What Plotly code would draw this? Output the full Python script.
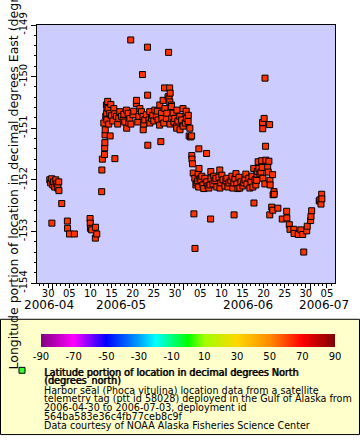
import plotly.graph_objects as go

# ---------------- data ----------------
times = [
"2006-04-30 09:00","2006-04-30 14:00","2006-04-30 20:00","2006-04-30 21:00","2006-05-01 02:00",
"2006-05-01 07:00","2006-05-01 13:00","2006-05-01 19:00","2006-05-02 00:00","2006-05-02 06:00",
"2006-05-02 07:00","2006-05-02 12:00","2006-05-02 13:00","2006-05-03 05:00",
"2006-05-04 13:00","2006-05-04 14:00","2006-05-05 01:00","2006-05-06 05:00",
"2006-05-09 22:00","2006-05-09 23:00","2006-05-10 00:00","2006-05-10 07:00","2006-05-11 04:00",
"2006-05-11 05:00","2006-05-11 12:00",
"2006-05-12 16:00","2006-05-12 17:00","2006-05-12 20:00","2006-05-13 04:00","2006-05-13 08:00",
"2006-05-13 09:00","2006-05-13 10:00","2006-05-13 11:00","2006-05-13 12:00","2006-05-13 15:00",
"2006-05-13 19:00","2006-05-13 20:00","2006-05-13 21:00","2006-05-13 22:00","2006-05-14 02:00",
"2006-05-14 04:00","2006-05-14 08:00","2006-05-14 14:00","2006-05-14 16:00","2006-05-14 20:00",
"2006-05-14 23:00","2006-05-15 07:00","2006-05-15 13:00","2006-05-15 18:00","2006-05-15 19:00",
"2006-05-16 04:00","2006-05-16 11:00","2006-05-16 17:00","2006-05-16 23:00","2006-05-17 08:00",
"2006-05-17 18:00","2006-05-17 22:00","2006-05-18 03:00","2006-05-18 13:00","2006-05-18 14:00",
"2006-05-18 22:00","2006-05-19 02:00","2006-05-19 08:00","2006-05-19 13:00","2006-05-19 14:00",
"2006-05-20 02:00","2006-05-20 06:00","2006-05-20 21:00","2006-05-20 22:00","2006-05-21 05:00",
"2006-05-21 11:00","2006-05-21 17:00","2006-05-22 02:00","2006-05-22 08:00","2006-05-22 11:00",
"2006-05-22 12:00","2006-05-22 15:00","2006-05-22 21:00","2006-05-23 06:00","2006-05-23 12:00",
"2006-05-23 13:00","2006-05-23 14:00","2006-05-23 20:00","2006-05-24 01:00","2006-05-24 02:00",
"2006-05-24 11:00","2006-05-24 18:00","2006-05-25 00:00","2006-05-25 06:00","2006-05-25 15:00",
"2006-05-25 20:00","2006-05-26 00:00","2006-05-26 09:00","2006-05-26 10:00","2006-05-26 16:00",
"2006-05-26 20:00","2006-05-26 22:00","2006-05-27 05:00","2006-05-27 09:00","2006-05-27 13:00",
"2006-05-27 15:00","2006-05-28 00:00","2006-05-28 02:00","2006-05-28 09:00","2006-05-28 12:00",
"2006-05-28 15:00","2006-05-28 18:00","2006-05-28 19:00","2006-05-28 20:00","2006-05-28 21:00",
"2006-05-29 04:00","2006-05-29 05:00","2006-05-29 06:00","2006-05-29 14:00","2006-05-29 18:00",
"2006-05-29 23:00","2006-05-30 09:00","2006-05-30 10:00","2006-05-30 11:00","2006-05-30 17:00",
"2006-05-31 04:00","2006-05-31 05:00","2006-05-31 14:00","2006-05-31 22:00","2006-05-31 23:00",
"2006-06-01 11:00","2006-06-01 16:00","2006-06-01 18:00","2006-06-02 03:00","2006-06-02 04:00",
"2006-06-02 09:00","2006-06-02 13:00","2006-06-02 17:00","2006-06-02 23:00","2006-06-03 00:00",
"2006-06-03 01:00","2006-06-03 04:00","2006-06-03 08:00","2006-06-03 12:00","2006-06-03 17:00",
"2006-06-03 18:00","2006-06-03 23:00","2006-06-04 05:00","2006-06-04 10:00","2006-06-04 12:00",
"2006-06-04 15:00","2006-06-04 16:00","2006-06-04 17:00","2006-06-04 22:00","2006-06-05 03:00",
"2006-06-05 09:00","2006-06-05 15:00","2006-06-05 20:00","2006-06-06 02:00","2006-06-06 12:00",
"2006-06-06 13:00","2006-06-06 19:00","2006-06-07 01:00","2006-06-07 07:00","2006-06-07 11:00",
"2006-06-07 12:00","2006-06-07 13:00","2006-06-08 00:00","2006-06-08 05:00","2006-06-08 11:00",
"2006-06-08 17:00","2006-06-08 22:00","2006-06-09 10:00","2006-06-09 15:00","2006-06-09 16:00",
"2006-06-09 21:00","2006-06-10 03:00","2006-06-10 09:00","2006-06-10 20:00","2006-06-11 02:00",
"2006-06-11 07:00","2006-06-11 13:00","2006-06-11 19:00","2006-06-12 06:00","2006-06-12 12:00",
"2006-06-12 17:00","2006-06-12 23:00","2006-06-13 00:00","2006-06-13 05:00","2006-06-13 11:00",
"2006-06-13 16:00","2006-06-13 22:00","2006-06-14 04:00","2006-06-14 09:00","2006-06-14 15:00",
"2006-06-15 02:00","2006-06-15 08:00","2006-06-15 14:00","2006-06-15 19:00","2006-06-16 01:00",
"2006-06-16 12:00","2006-06-16 18:00","2006-06-17 00:00","2006-06-17 06:00","2006-06-17 11:00",
"2006-06-17 16:00","2006-06-17 17:00","2006-06-17 23:00","2006-06-18 04:00","2006-06-18 08:00",
"2006-06-18 10:00","2006-06-18 12:00","2006-06-18 17:00","2006-06-18 21:00","2006-06-19 03:00",
"2006-06-19 09:00","2006-06-19 13:00","2006-06-19 16:00","2006-06-19 18:00","2006-06-19 19:00",
"2006-06-19 20:00","2006-06-20 03:00","2006-06-20 07:00","2006-06-20 08:00","2006-06-20 11:00",
"2006-06-20 13:00","2006-06-20 23:00","2006-06-21 02:00","2006-06-21 06:00","2006-06-21 10:00",
"2006-06-21 11:00","2006-06-21 12:00","2006-06-21 13:00","2006-06-21 22:00","2006-06-22 03:00",
"2006-06-22 04:00","2006-06-22 06:00","2006-06-22 11:00","2006-06-22 12:00","2006-06-23 09:00",
"2006-06-24 10:00","2006-06-25 11:00","2006-06-25 12:00","2006-06-26 02:00","2006-06-26 06:00",
"2006-06-27 04:00","2006-06-27 05:00","2006-06-28 05:00","2006-06-28 20:00","2006-06-29 06:00",
"2006-06-29 12:00","2006-06-30 05:00","2006-06-30 08:00","2006-07-01 03:00","2006-07-01 05:00",
"2006-07-01 09:00","2006-07-03 04:00","2006-07-03 08:00","2006-07-03 14:00","2006-07-03 18:00",
"2006-07-03 19:00",
]

longitudes = [
-152.00,-152.06,-151.98,-152.84,-152.10,
-152.04,-152.14,-152.00,-152.08,-152.16,
-152.12,-152.04,-152.21,-152.46,
-152.80,-152.94,-153.05,-153.05,
-152.75,-152.84,-152.94,-152.97,-153.13,
-152.92,-153.05,
-152.23,-151.81,-151.60,-150.90,-151.51,
-151.38,-151.28,-151.13,-151.03,-150.77,
-150.55,-150.71,-150.84,-150.60,-150.48,
-150.62,-150.92,-150.71,-151.15,-150.54,
-150.76,-150.86,-150.62,-150.72,-151.59,
-150.77,-150.92,-150.81,-150.68,-150.77,
-150.84,-150.73,-150.88,-150.65,-151.00,
-150.71,-150.90,-150.81,-149.29,-150.92,
-150.74,-150.67,-150.52,-150.46,-150.88,
-150.77,-150.62,-150.68,-149.96,-150.77,
-151.03,-150.92,-150.84,-150.74,-149.43,
-150.36,-151.33,-150.84,-150.68,-150.90,
-150.81,-150.75,-150.86,-150.65,-150.77,
-150.67,-150.84,-150.94,-150.55,-151.26,
-150.71,-150.81,-150.46,-150.90,-150.22,
-150.62,-150.81,-150.71,-150.39,-149.53,
-150.43,-150.22,-150.49,-150.92,-150.32,
-150.55,-150.58,-150.81,-150.71,-150.88,
-150.81,-150.96,-151.00,-150.65,-150.86,
-150.77,-151.03,-150.84,-150.62,-150.96,
-150.90,-150.67,-150.81,-150.87,-150.75,
-151.15,-151.00,-151.17,-151.15,-151.53,
-151.60,-151.69,-151.87,-152.66,-151.97,
-153.33,-152.10,-152.06,-152.02,-151.89,
-152.14,-151.40,-151.78,-151.98,-152.00,
-151.93,-152.10,-152.17,-151.97,-151.49,
-152.04,-152.12,-152.16,-152.10,-152.76,
-151.84,-151.98,-152.08,-151.93,-152.02,
-151.97,-152.14,-151.95,-151.81,-152.16,
-152.06,-151.91,-152.00,-152.12,-152.02,
-151.97,-152.14,-152.06,-152.02,-151.93,
-152.16,-152.06,-152.68,-151.98,-151.88,
-152.08,-152.17,-151.95,-152.16,-152.04,
-152.12,-152.06,-152.00,-151.89,-152.08,
-151.97,-152.16,-152.04,-151.93,-152.14,
-151.78,-152.45,-152.00,-152.10,-152.01,
-151.89,-151.84,-151.65,-151.78,-151.88,
-151.85,-151.63,-151.76,-150.89,-151.01,
-151.97,-150.81,-152.08,-150.03,-151.35,
-151.62,-151.76,-151.85,-151.64,-150.93,
-152.68,-152.01,-152.10,-152.53,-151.90,
-152.59,-152.29,-152.23,-152.28,-152.55,
-152.76,-152.61,-152.74,-152.87,-152.96,
-152.96,-153.04,-153.06,-152.97,-153.06,
-153.40,-152.99,-152.90,-152.79,-152.71,
-152.60,-152.41,-152.39,-152.47,-152.28,
-152.37,
]

x_range = ["2006-04-27 08:24", "2006-07-06 21:36"]
y_range = [-154, -149]
y_ticks = [-154, -153, -152, -151, -150, -149]
day_ticks = ["2006-04-30", "2006-05-05", "2006-05-10", "2006-05-15", "2006-05-20",
             "2006-05-25", "2006-05-30", "2006-06-05", "2006-06-10", "2006-06-15",
             "2006-06-20", "2006-06-25", "2006-06-30", "2006-07-05"]
month_starts = ["2006-05-01", "2006-06-01", "2006-07-01"]
month_labels = ["2006-04", "2006-05", "2006-06", "2006-07"]
colorbar_ticks = [-90, -70, -50, -30, -10, 10, 30, 50, 70, 90]

y_title = "Longitude portion of location in decimal degrees East (degrees_east)"
legend_bold = ["Latitude portion of location in decimal degrees North",
               "(degrees_north)"]
legend_lines = ["Harbor seal (Phoca vitulina) location data from a satellite",
                "telemetry tag (ptt id 58028) deployed in the Gulf of Alaska from",
                "2006-04-30 to 2006-07-03, deployment id",
                "564ba583e36c4fb77ceb8c9f",
                "Data courtesy of NOAA Alaska Fisheries Science Center"]

FONT = "DejaVu Sans"
W, H = 360, 440
L, R, T, B = 37, 25, 20, 157
PW, PH = W - L - R, H - T - B

def px_x(p):  # pixel -> paper x
    return (p - L) / PW

def px_y(p):  # pixel -> paper y
    return (H - B - p) / PH

rainbow = [
    [0.000, "#800080"], [0.111, "#ff00ff"], [0.222, "#0000ff"],
    [0.333, "#00a0ff"], [0.389, "#00ffff"], [0.444, "#00ff80"],
    [0.500, "#00ff00"], [0.556, "#a0ff00"], [0.667, "#ffd700"],
    [0.778, "#ff8c00"], [0.889, "#ff0000"], [1.000, "#800000"],
]

fig = go.Figure()
fig.add_trace(go.Scatter(
    x=times, y=longitudes, mode="markers",
    marker=dict(symbol="square", size=6, color="#ff3300",
                line=dict(color="black", width=1)),
    showlegend=False, hoverinfo="x+y"))
# carrier for the colour bar
fig.add_trace(go.Scatter(
    x=[None], y=[None], mode="markers",
    marker=dict(color=[0], coloraxis="coloraxis"),
    showlegend=False, hoverinfo="skip"))
# carrier for month-boundary ticks
fig.add_trace(go.Scatter(x=[None], y=[None], xaxis="x2", mode="markers",
                         showlegend=False, hoverinfo="skip"))

annotations = []
annotations.append(dict(text=y_title, xref="paper", yref="paper",
                        x=px_x(12.5), y=px_y(151.5), xanchor="center", yanchor="middle",
                        textangle=-90, showarrow=False,
                        font=dict(family=FONT, size=12.5, color="black")))
month_x = [48.5, 121, 248, 324]
for lab, mx in zip(month_labels, month_x):
    annotations.append(dict(text=lab, xref="paper", yref="paper", x=px_x(mx), y=px_y(305.5),
                            xanchor="center", yanchor="middle", showarrow=False,
                            font=dict(family=FONT, size=12, color="black")))
ly = [374.5, 383.2, 392.2, 401.2, 410.2, 418.8, 428.2]
for i, t in enumerate(legend_bold + legend_lines):
    bold = i < 2
    f = dict(family=FONT, size=9.6, color="black")
    if bold:
        f["shadow"] = "0.7px 0px 0px black"
    annotations.append(dict(text=t, xref="paper", yref="paper", x=px_x(42), y=px_y(ly[i]),
                            xanchor="left", yanchor="middle", showarrow=False, font=f))

shapes = [
    dict(type="rect", xref="paper", yref="paper", layer="below",
         x0=px_x(0.5), x1=px_x(359.5), y0=px_y(320), y1=px_y(437.5),
         fillcolor="#ffffcc", line=dict(color="black", width=1)),
    dict(type="rect", xref="paper", yref="paper",
         x0=px_x(19), x1=px_x(25), y0=px_y(369), y1=px_y(375),
         fillcolor="#33ff33", line=dict(color="black", width=1)),
]

fig.update_layout(
    width=W, height=H,
    margin=dict(l=L, r=R, t=T, b=B, pad=0),
    paper_bgcolor="white", plot_bgcolor="#ccccff",
    font=dict(family=FONT, size=10, color="black"),
    showlegend=False,
    xaxis=dict(type="date", range=x_range, tickmode="array", tickvals=day_ticks,
               tickformat="%d", ticks="outside", ticklen=4, tickcolor="black",
               ticklabelstandoff=-3,
               showline=True, linecolor="black", linewidth=1, mirror=True,
               showgrid=False, zeroline=False, tickfont=dict(size=10),
               minor=dict(tickmode="linear", tick0="2006-04-01", dtick=86400000,
                          ticks="outside", ticklen=2, tickcolor="black", showgrid=False)),
    xaxis2=dict(type="date", overlaying="x", matches="x", anchor="y", side="bottom",
                tickmode="array", tickvals=month_starts, ticks="outside", ticklen=6,
                tickcolor="black", showticklabels=False, showgrid=False,
                zeroline=False, showline=False),
    yaxis=dict(range=y_range, tickmode="array", tickvals=y_ticks,
               ticktext=[str(v) for v in y_ticks],
               ticks="outside", ticklen=5, tickcolor="black", tickangle=-90,
               tickfont=dict(size=10),
               showline=True, linecolor="black", linewidth=1, mirror=True,
               showgrid=False, zeroline=False,
               minor=dict(tickmode="linear", tick0=-154, dtick=0.2, ticks="outside",
                          ticklen=2, tickcolor="black", showgrid=False)),
    coloraxis=dict(cmin=-90, cmax=90, colorscale=rainbow,
                   colorbar=dict(orientation="h", x=px_x(188), xanchor="center",
                                 y=px_y(335), yanchor="top", len=294, lenmode="pixels",
                                 thickness=13, thicknessmode="pixels", xpad=0, ypad=0,
                                 outlinewidth=0, tickmode="array", tickvals=colorbar_ticks,
                                 ticktext=[str(v) for v in colorbar_ticks],
                                 ticks="", tickfont=dict(size=10))),
    annotations=annotations, shapes=shapes,
)

fig.write_html("out.html", config={"displayModeBar": False},
               post_script="document.body.style.margin='0px';")
